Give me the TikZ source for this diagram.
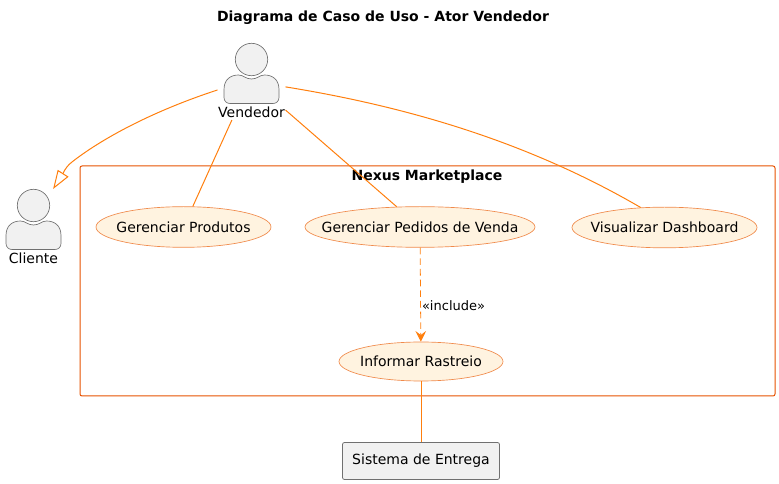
\documentclass[tikz,border=0pt]{standalone}
\usepackage{fontspec}
\setmainfont{DejaVu Sans}
\usepackage{tikz}
\usetikzlibrary{arrows.meta}
\usetikzlibrary{positioning}
\usetikzlibrary{shapes.geometric}

\definecolor{edgecol}{HTML}{FF7F0E}
\definecolor{framecol}{HTML}{E65100}
\definecolor{ucline}{HTML}{F08A4B}
\definecolor{ucfill}{HTML}{FFF3E0}
\definecolor{actfill}{HTML}{F1F1F1}
\definecolor{actline}{HTML}{707070}

% one actor: name, position, text
\newcommand{\actorfig}[3]{
    \node (#1) [actorbox] at (#2){};
    \begin{scope}[shift={(#2)}]
        \path[actorpart] (0,-22) circle [radius=16.2];
        \path[actorpart] (-21.5,22) .. controls (-25,22) and (-27.5,19.5) .. (-27.5,16) -- (-27.5,8)
            .. controls (-27.5,-2) and (-21,-6.5) .. (-13,-6.5)
            .. controls (-8,-6.5) and (-6,-2.5) .. (0,-2.5)
            .. controls (6,-2.5) and (8,-6.5) .. (13,-6.5)
            .. controls (21,-6.5) and (27.5,-2) .. (27.5,8)
            -- (27.5,16) .. controls (27.5,19.5) and (25,22) .. (21.5,22) -- cycle;
    \end{scope}
    \node (#1-text) [txt] at ([yshift=-22.9pt]#1.center){#3};
}

\begin{document}
\begin{tikzpicture}[
                x=0.75pt, y=-0.75pt,
                txt/.style = {font=\fontsize{10.5pt}{12pt}\selectfont, inner sep = 0mm},
                small/.style = {font=\fontsize{9.75pt}{12pt}\selectfont, inner sep = 0mm},
                bold/.style = {font=\fontsize{10.5pt}{12pt}\selectfont\bfseries, inner sep = 0mm},
                actorbox/.style = {inner sep = 0mm, outer sep = 0mm, minimum width = 51pt, minimum height = 57.75pt},
                actorpart/.style = {draw = actline, fill = actfill, line width = 0.5pt},
                usecase/.style = {draw = ucline, fill = ucfill, ellipse, line width = 0.5pt, inner sep = 0mm, minimum height = 30.5pt},
                frame/.style = {draw = framecol, line width = 0.75pt, rounded corners = 1.5pt, inner sep = 0mm, minimum width = 521.25pt, minimum height = 172.5pt},
                ext/.style = {draw = actline, fill = actfill, line width = 0.6pt, rounded corners = 1.5pt, inner sep = 0mm, minimum width = 117.75pt, minimum height = 27.75pt, font=\fontsize{10.5pt}{12pt}\selectfont},
                arr/.style = {draw = edgecol, line width = 0.75pt},
            ]
            \useasboundingbox (0,0) rectangle (779,484);

            \node (title) [bold] at (383,18){Diagrama de Caso de Uso - Ator Vendedor};

            \node (system) [frame] at (427.5,281){};
            \node (systemname) [bold] at (427,177){Nexus Marketplace};

            \actorfig{vendedor}{251.5,81.5}{Vendedor}
            \actorfig{cliente}{33.5,227.5}{Cliente}

            \path[arr] (vendedor.194.8) .. controls (150,112) and (100,140) .. (72,162)
                .. controls (68,165) and (65,169) .. (63,173.5)
                [-{Triangle[open, length=14pt, width=9.5pt, fill=white]}] -- (cliente.63.1);

            \node (produtos) [usecase, minimum width = 131.25pt, label={[txt]center:Gerenciar Produtos}] at (183.5,227){};
            \node (pedidos) [usecase, minimum width = 172.5pt, label={[txt]center:Gerenciar Pedidos de Venda}] at (420,227){};
            \node (dashboard) [usecase, minimum width = 138.75pt, label={[txt]center:Visualizar Dashboard}] at (664.5,227.5){};
            \node (rastreio) [usecase, minimum width = 123pt, minimum height = 29.25pt, label={[txt]center:Informar Rastreio}] at (421,361.5){};
            \node (entrega) [ext] at (421,461){Sistema de Entrega};

            \path[arr] (vendedor.243.7) -- (produtos);
            \path[arr] (vendedor.-40.5) -- (pedidos);
            \path[arr] (vendedor.-9) .. controls (410,107) and (530,143) .. (dashboard.140);
            \path[arr, line width=0.6pt, dash pattern=on 5pt off 3pt, -{Stealth[inset=3pt, length=8pt, width=8pt]}] (pedidos) -- node (incl) [small, right = 0pt, pos=0.6, xshift=0.8pt, yshift=-1pt]{«include»} (rastreio);
            \path[arr] (rastreio) -- (entrega);
        \end{tikzpicture}
\end{document}
